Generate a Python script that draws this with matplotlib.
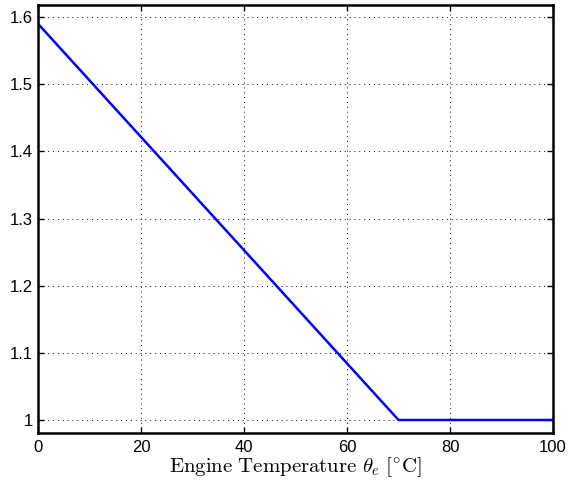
import matplotlib
matplotlib.use('agg')
import matplotlib.pyplot as plt

temp = [0, 70, 100]
factor = [1.59, 1.0, 1.0]
xticks = [0, 20, 40, 60, 80, 100]
yticks = [1.0, 1.1, 1.2, 1.3, 1.4, 1.5, 1.6]
yticklabels = ['1', '1.1', '1.2', '1.3', '1.4', '1.5', '1.6']

plt.rcParams['font.family'] = ['Liberation Sans', 'DejaVu Sans']
plt.rcParams['mathtext.fontset'] = 'cm'

fig = plt.figure(figsize=(5.68, 4.88), dpi=100)
ax = fig.add_axes([0.067, 0.1127, 0.9066, 0.877])
ax.plot(temp, factor, color='#0000ff', linewidth=1.8)
ax.set_xlim(0, 100)
ax.set_ylim(0.9806, 1.618)
ax.set_xticks(xticks)
ax.set_yticks(yticks)
ax.set_yticklabels(yticklabels)
ax.grid(True, color='k', linestyle=(0, (1, 4)), linewidth=0.7)
ax.tick_params(direction='in', top=True, right=True, labelsize=12, length=4, width=1)
ax.tick_params(axis='x', pad=5)
for s in ax.spines.values():
    s.set_linewidth(1.8)
ax.set_xlabel(r'$\mathrm{Engine\ Temperature}\ \theta_e\ [^{\circ}\mathrm{C}]$', fontsize=15, labelpad=0)
fig.savefig('out.png', dpi=100)
plt.close()
